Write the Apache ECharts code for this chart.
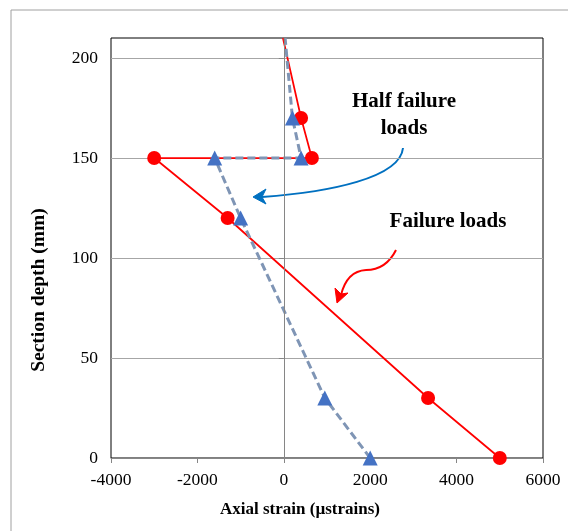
<!DOCTYPE html>
<html>
<head>
<meta charset="utf-8">
<script src="https://cdn.jsdelivr.net/npm/echarts@6/dist/echarts.min.js"></script>
<style>html,body{margin:0;padding:0;background:#fff;}#c{width:568px;height:531px;}</style>
</head>
<body>
<div id="c"></div>
<script>
// Failure loads (red)
const failureStrain = [5000, 3340, -1300, -3000, 650, 400, -20];
const failureDepth  = [0, 30, 120, 150, 150, 170, 210];
// Half failure loads (blue)
const halfStrain = [2000, 950, -1000, -1600, 400, 200, 30];
const halfDepth  = [0, 30, 120, 150, 150, 170, 210];
// Tick values
const xTicks = [-4000, -2000, 0, 2000, 4000, 6000];
const yTicks = [0, 50, 100, 150, 200];

const FONT = 'Liberation Serif';
function mk(xs, ys) {
  return xs.map((x, i) => i === xs.length - 1 ? {value: [x, ys[i]], symbol: 'none'} : [x, ys[i]]);
}

const chart = echarts.init(document.getElementById('c'));
chart.setOption({
  animation: false,
  backgroundColor: '#fff',
  grid: {left: 111, top: 38, right: 25, bottom: 73, show: true, borderColor: '#000', borderWidth: 1},
  xAxis: {
    type: 'value', min: -4000, max: 6000, interval: 2000,
    axisLine: {show: true, onZero: false, lineStyle: {color: '#868686', width: 1}},
    axisTick: {show: true, length: 5, lineStyle: {color: '#868686'}, customValues: xTicks},
    axisLabel: {color: '#000', fontFamily: FONT, fontSize: 17.5, margin: 13, customValues: xTicks, formatter: v => String(v)},
    splitLine: {show: false}
  },
  yAxis: {
    type: 'value', min: 0, max: 210, interval: 50,
    axisLine: {show: false},
    axisTick: {show: true, length: 5, lineStyle: {color: '#868686'}, customValues: yTicks},
    axisLabel: {color: '#000', fontFamily: FONT, fontSize: 17.5, margin: 13, customValues: yTicks, formatter: v => String(v)},
    splitLine: {show: true, lineStyle: {color: '#A6A6A6', width: 1}}
  },
  series: [
    {
      type: 'line', data: mk(failureStrain, failureDepth),
      symbol: 'circle', symbolSize: 14,
      lineStyle: {color: '#FF0000', width: 1.75},
      itemStyle: {color: '#FF0000'},
      markLine: {
        silent: true, symbol: 'none', label: {show: false},
        lineStyle: {color: '#868686', width: 1, type: 'solid'},
        data: [{xAxis: 0}]
      },
      z: 3
    },
    {
      type: 'line', data: mk(halfStrain, halfDepth),
      symbol: 'triangle', symbolSize: 15,
      lineStyle: {color: '#7F95B5', width: 3, type: [8, 4]},
      itemStyle: {color: '#4472C4'},
      z: 4
    }
  ],
  graphic: [
    {type: 'rect', shape: {x: 11, y: 10, width: 700, height: 700}, style: {fill: 'none', stroke: '#A0A0A0', lineWidth: 1}, silent: true, z: -10},
    {type: 'text', x: 300, y: 510, style: {text: 'Axial strain (µstrains)', font: 'bold 17px "Liberation Serif"', fill: '#000', textAlign: 'center', textVerticalAlign: 'middle'}},
    {type: 'text', x: 39, y: 290, rotation: Math.PI / 2, style: {text: 'Section depth (mm)', font: 'bold 19.5px "Liberation Serif"', fill: '#000', textAlign: 'center', textVerticalAlign: 'middle'}},
    {type: 'text', x: 404, y: 102, style: {text: 'Half failure', font: 'bold 21px "Liberation Serif"', fill: '#000', textAlign: 'center', textVerticalAlign: 'middle'}},
    {type: 'text', x: 404, y: 129, style: {text: 'loads', font: 'bold 21px "Liberation Serif"', fill: '#000', textAlign: 'center', textVerticalAlign: 'middle'}},
    {type: 'text', x: 448, y: 222, style: {text: 'Failure loads', font: 'bold 21px "Liberation Serif"', fill: '#000', textAlign: 'center', textVerticalAlign: 'middle'}},
    {type: 'bezierCurve', shape: {x1: 403, y1: 148, cpx1: 400, cpy1: 178, cpx2: 330, cpy2: 192, x2: 262, y2: 197}, style: {fill: 'none', stroke: '#0070C0', lineWidth: 2}},
    {type: 'polygon', shape: {points: [[253, 197], [266, 189], [262, 197], [266, 204]]}, style: {fill: '#0070C0', stroke: '#0070C0', lineWidth: 1}},
    {type: 'bezierCurve', shape: {x1: 396, y1: 250, cpx1: 386, cpy1: 270, x2: 366, y2: 270}, style: {fill: 'none', stroke: '#FF0000', lineWidth: 2}},
    {type: 'bezierCurve', shape: {x1: 366, y1: 270, cpx1: 347, cpy1: 271, x2: 341, y2: 295}, style: {fill: 'none', stroke: '#FF0000', lineWidth: 2}},
    {type: 'polygon', shape: {points: [[337, 303], [335, 288], [341, 294], [348, 293]]}, style: {fill: '#FF0000', stroke: '#FF0000', lineWidth: 1}}
  ]
});
</script>
</body>
</html>
